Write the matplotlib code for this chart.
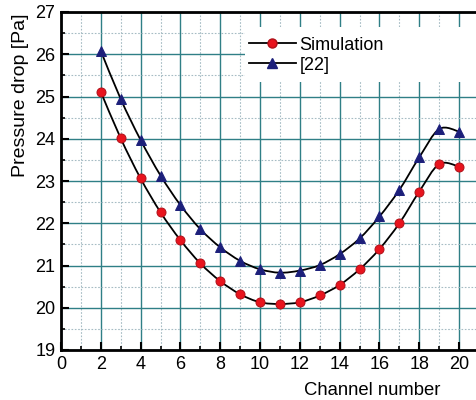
import numpy as np
import matplotlib
matplotlib.use("Agg")
import matplotlib.pyplot as plt
from matplotlib.path import Path
from matplotlib.patches import PathPatch, Rectangle
from matplotlib.lines import Line2D
from matplotlib.ticker import MultipleLocator

plt.rcParams['font.family'] = ['Liberation Sans', 'DejaVu Sans']

channels = [2, 3, 4, 5, 6, 7, 8, 9, 10, 11, 12, 13, 14, 15, 16, 17, 18, 19, 20]
simulation = [25.11, 24.01, 23.06, 22.26, 21.60, 21.05, 20.63, 20.32, 20.13, 20.09,
              20.13, 20.29, 20.54, 20.91, 21.39, 22.00, 22.75, 23.40, 23.34]
ref22 = [26.08, 24.94, 23.97, 23.13, 22.43, 21.86, 21.43, 21.11, 20.91, 20.83,
         20.88, 21.01, 21.27, 21.64, 22.16, 22.79, 23.56, 24.23, 24.17]
series_labels = ["Simulation", "[22]"]
xlabel = "Channel number"
ylabel = "Pressure drop [Pa]"

fig = plt.figure(figsize=(4.76, 4.00), dpi=100)
ax = fig.add_axes([61/476, 50/400, 415/476, 338/400])

def smooth_path(xs, ys):
    xs = np.asarray(xs, float); ys = np.asarray(ys, float)
    n = len(xs)
    verts = [(xs[0], ys[0])]
    codes = [Path.MOVETO]
    for i in range(n - 1):
        p0 = np.array([xs[max(i-1, 0)], ys[max(i-1, 0)]])
        p1 = np.array([xs[i], ys[i]])
        p2 = np.array([xs[i+1], ys[i+1]])
        p3 = np.array([xs[min(i+2, n-1)], ys[min(i+2, n-1)]])
        c1 = p1 + (p2 - p0) / 6.0
        c2 = p2 - (p3 - p1) / 6.0
        verts += [tuple(c1), tuple(c2), tuple(p2)]
        codes += [Path.CURVE4] * 3
    return Path(verts, codes)

for ys in (simulation, ref22):
    ax.add_patch(PathPatch(smooth_path(channels, ys), facecolor='none',
                           edgecolor='black', lw=1.3, zorder=3))

ax.plot(channels, simulation, linestyle='none', marker='o', ms=6.5,
        mfc='#e8141e', mec='#b01018', mew=0.7, zorder=4)
ax.plot(channels, ref22, linestyle='none', marker='^', ms=7.5,
        mfc='#1c1f7a', mec='#1c1f7a', mew=0.7, zorder=4)

ax.set_xlim(0, 20.85)
ax.set_ylim(19, 27)
ax.xaxis.set_major_locator(MultipleLocator(2))
ax.xaxis.set_minor_locator(MultipleLocator(1))
ax.yaxis.set_major_locator(MultipleLocator(1))
ax.yaxis.set_minor_locator(MultipleLocator(0.5))

ax.grid(which='major', color='#2f7f86', lw=1.0, ls='-', zorder=0)
ax.grid(which='minor', color='#a6bcc4', lw=0.8, ls=(0, (1.5, 1.5)), zorder=0)
ax.set_axisbelow(True)

ax.tick_params(which='both', direction='in', top=False, right=False,
               labelsize=13, colors='black')
ax.tick_params(which='major', length=6, width=1.5, pad=4)
ax.tick_params(which='minor', length=3, width=1.2)
for s in ['left', 'bottom', 'top']:
    ax.spines[s].set_linewidth(2.0)
ax.spines['right'].set_visible(False)

ax.set_ylabel(ylabel, fontsize=14)
ax.yaxis.set_label_coords((29 - 61) / 415, (350 - 95) / 338)
ax.set_xlabel(xlabel, fontsize=13.3)
ax.xaxis.set_label_coords((440 - 61) / 415, -0.095)
ax.xaxis.label.set_horizontalalignment('right')

# legend white box
ax.add_patch(Rectangle(((245-61)/415, (350-82)/338), 1.0, (82-27)/338,
                       transform=ax.transAxes, facecolor='white',
                       edgecolor='none', zorder=2, clip_on=True))
handles = [Line2D([], [], color='black', lw=1.3, marker='o', ms=6.5,
                  mfc='#e8141e', mec='#b01018'),
           Line2D([], [], color='black', lw=1.3, marker='^', ms=7.5,
                  mfc='#1c1f7a', mec='#1c1f7a')]
leg = ax.legend(handles, series_labels, loc='upper left',
                bbox_to_anchor=((247-61)/415, (350-35)/338),
                frameon=False, fontsize=13, handlelength=2.6,
                handletextpad=0.2, labelspacing=0.15, borderpad=0.1,
                borderaxespad=0)
leg.set_zorder(5)

fig.savefig("out.png", dpi=100)
